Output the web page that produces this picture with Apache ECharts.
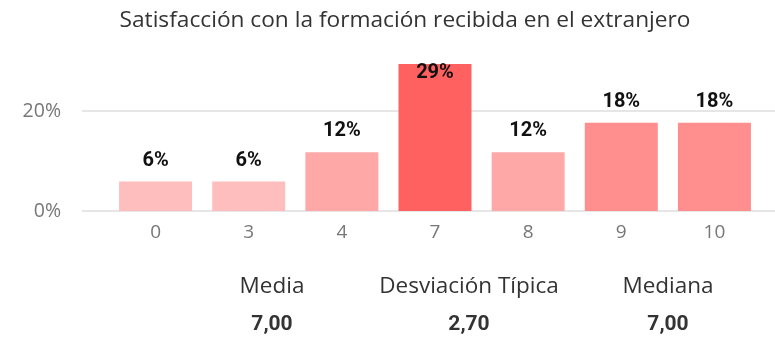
<!DOCTYPE html>
<html>
<head>
<meta charset="utf-8">
<script src="https://cdn.jsdelivr.net/npm/echarts@6/dist/echarts.min.js"></script>
<style>
  html, body { margin: 0; padding: 0; background: #fff; }
  #chart { width: 775px; height: 340px; }
</style>
</head>
<body>
<div id="chart"></div>
<script>
// Satisfaction score distribution (share of respondents, %)
const categories = ['0', '3', '4', '7', '8', '9', '10'];
const shares = [5.88, 5.88, 11.76, 29.41, 11.76, 17.65, 17.65];
const barColors = ['#FFBEBE', '#FFBEBE', '#FFA8A8', '#FF6060', '#FFA8A8', '#FF8E8E', '#FF8E8E'];
const yTicks = [0, 20];

// Summary statistics shown beneath the chart
const statNames = ['Media', 'Desviación Típica', 'Mediana'];
const statValues = ['7,00', '2,70', '7,00'];
const statCenters = [267, 464, 663];

const Y_MAX = 30;
const sans = '"Segoe UI", "Open Sans", "Noto Sans", sans-serif';
const labelFont = 'Roboto, "DejaVu Sans", sans-serif';

const chart = echarts.init(document.getElementById('chart'), null, { renderer: 'canvas' });

const titles = [{
  text: 'Satisfacción con la formación recibida en el extranjero',
  left: 400,
  textAlign: 'center',
  top: 4,
  textStyle: { fontFamily: sans, fontSize: 22.7, fontWeight: 'normal', color: '#333333' }
}];
statNames.forEach((name, i) => {
  titles.push({
    text: name,
    left: statCenters[i],
    top: 270,
    textAlign: 'center',
    textStyle: { fontFamily: sans, fontSize: 22.5, fontWeight: 'normal', color: '#333333' }
  });
  titles.push({
    text: statValues[i],
    left: statCenters[i],
    top: 309.5,
    textAlign: 'center',
    textStyle: { fontFamily: labelFont, fontSize: 21, fontWeight: 'bold', color: '#333333' }
  });
});

const barData = shares.map((v, i) => {
  const item = { value: v, itemStyle: { color: barColors[i] } };
  if (v > Y_MAX - 6) {
    item.label = { position: 'insideTop', distance: -1 };
  }
  return item;
});

chart.setOption({
  animation: false,
  title: titles,
  grid: [
    { left: 109, right: 14, top: 61, height: 150 },
    { left: 82, right: 0, top: 61, height: 150 }
  ],
  xAxis: [
    {
      type: 'category', gridIndex: 0, data: categories,
      axisLine: { show: false }, axisTick: { show: false },
      axisLabel: { color: '#777777', fontFamily: sans, fontSize: 19, margin: 12 }
    },
    { type: 'category', gridIndex: 1, data: categories, show: false }
  ],
  yAxis: [
    {
      type: 'value', gridIndex: 0, min: 0, max: Y_MAX, interval: 20, show: false
    },
    {
      type: 'value', gridIndex: 1, min: 0, max: Y_MAX, interval: 20,
      axisLine: { show: false }, axisTick: { show: false },
      axisLabel: {
        color: '#777777', fontFamily: sans, fontSize: 19.5, margin: 21,
        showMaxLabel: false,
        formatter: v => (yTicks.indexOf(v) >= 0 ? v + '%' : '')
      },
      splitLine: { showMaxLine: false, lineStyle: { color: '#E6E6E6', width: 2 } }
    }
  ],
  series: [{
    type: 'bar',
    xAxisIndex: 0, yAxisIndex: 0,
    data: barData,
    barWidth: 73,
    label: {
      show: true,
      position: 'top',
      distance: 11,
      color: '#111111',
      fontFamily: labelFont,
      fontSize: 20,
      fontWeight: 'bold',
      formatter: p => Math.round(p.value) + '%'
    }
  }]
});
</script>
</body>
</html>
